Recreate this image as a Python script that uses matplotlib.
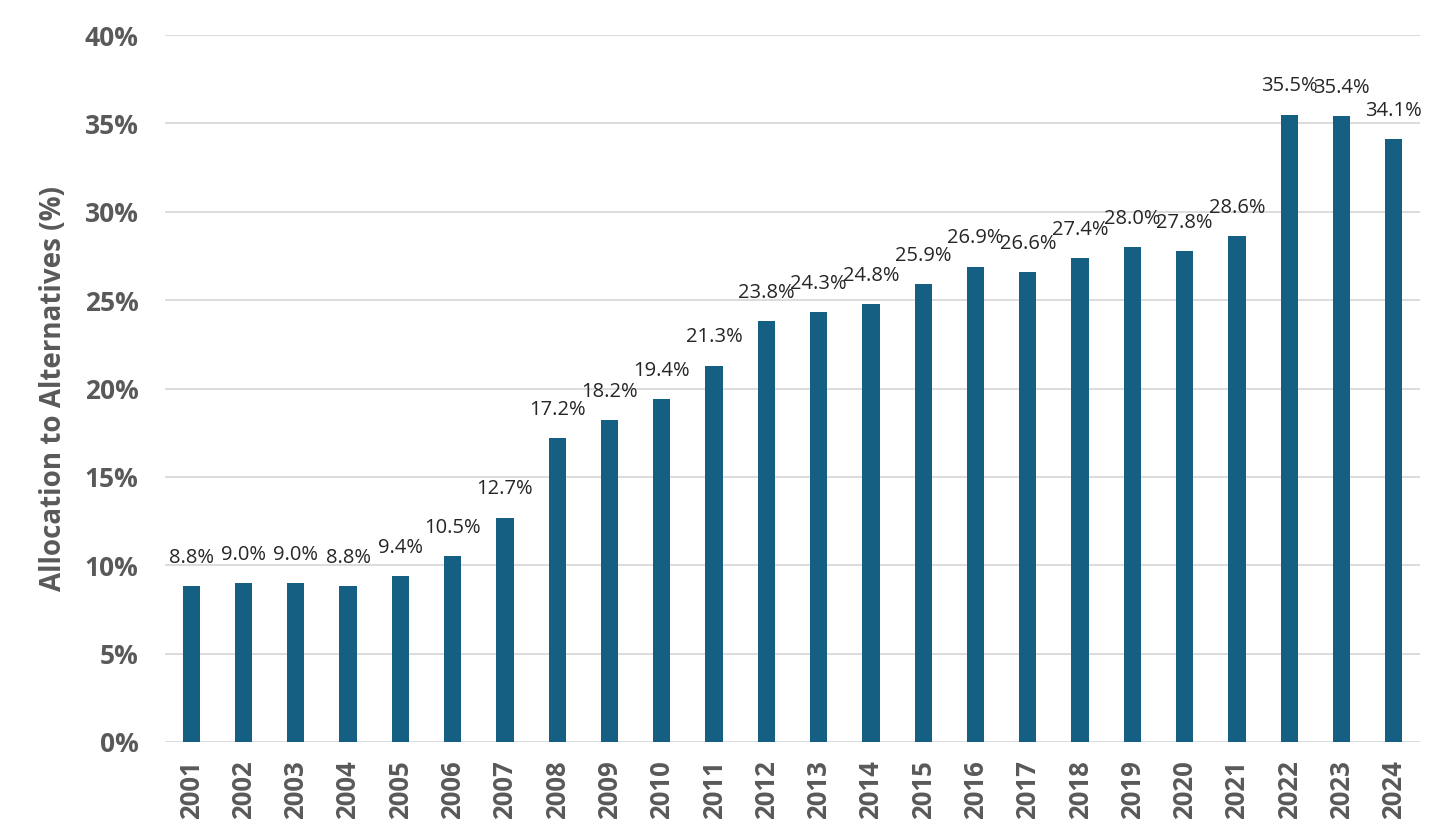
import matplotlib; matplotlib.use("Agg")
import matplotlib.pyplot as plt
import numpy as np

BAR = "#156082"
GRID = "#D9D9D9"
TXT = "#595959"

years = [str(y) for y in range(2001, 2025)]
alloc = [8.8, 9.0, 9.0, 8.8, 9.4, 10.5, 12.7, 17.2, 18.2, 19.4, 21.3, 23.8,
         24.3, 24.8, 25.9, 26.9, 26.6, 27.4, 28.0, 27.8, 28.6, 35.5, 35.4, 34.1]
yticks = [0, 5, 10, 15, 20, 25, 30, 35, 40]

plt.rcParams['font.family'] = ['Open Sans', 'DejaVu Sans']

fig = plt.figure(figsize=(14.56, 8.4), dpi=100)
ax = fig.add_axes([165/1456, 98/840, 1255/1456, 707/840])
x = np.arange(len(years))
bars = ax.bar(x, alloc, width=0.33, color=BAR, zorder=3)
for xi, v in zip(x, alloc):
    ax.annotate(f"{v:.1f}%", (xi, v), xytext=(0, 13), textcoords="offset points",
                ha="center", va="bottom", fontsize=14.5, color="#262626")

ax.set_xlim(-0.5, len(years) - 0.5)
ax.set_ylim(0, 40)
ax.set_yticks(yticks)
ax.set_yticklabels([f"{t}%" for t in yticks], fontsize=19, fontweight="bold", color=TXT)
ax.set_xticks(x)
ax.set_xticklabels(years, rotation=90, fontsize=18.5, fontweight="bold", color=TXT)
ax.tick_params(axis="y", length=0, pad=19)
ax.tick_params(axis="x", length=0, pad=13)
ax.grid(axis="y", color=GRID, lw=1.3, zorder=0)
for s in ax.spines.values():
    s.set_visible(False)
ax.set_ylabel("Allocation to Alternatives (%)", fontsize=20, fontweight="bold", color=TXT)
ax.yaxis.set_label_coords(-0.077, 0.5)

plt.savefig("out.png", dpi=100)
